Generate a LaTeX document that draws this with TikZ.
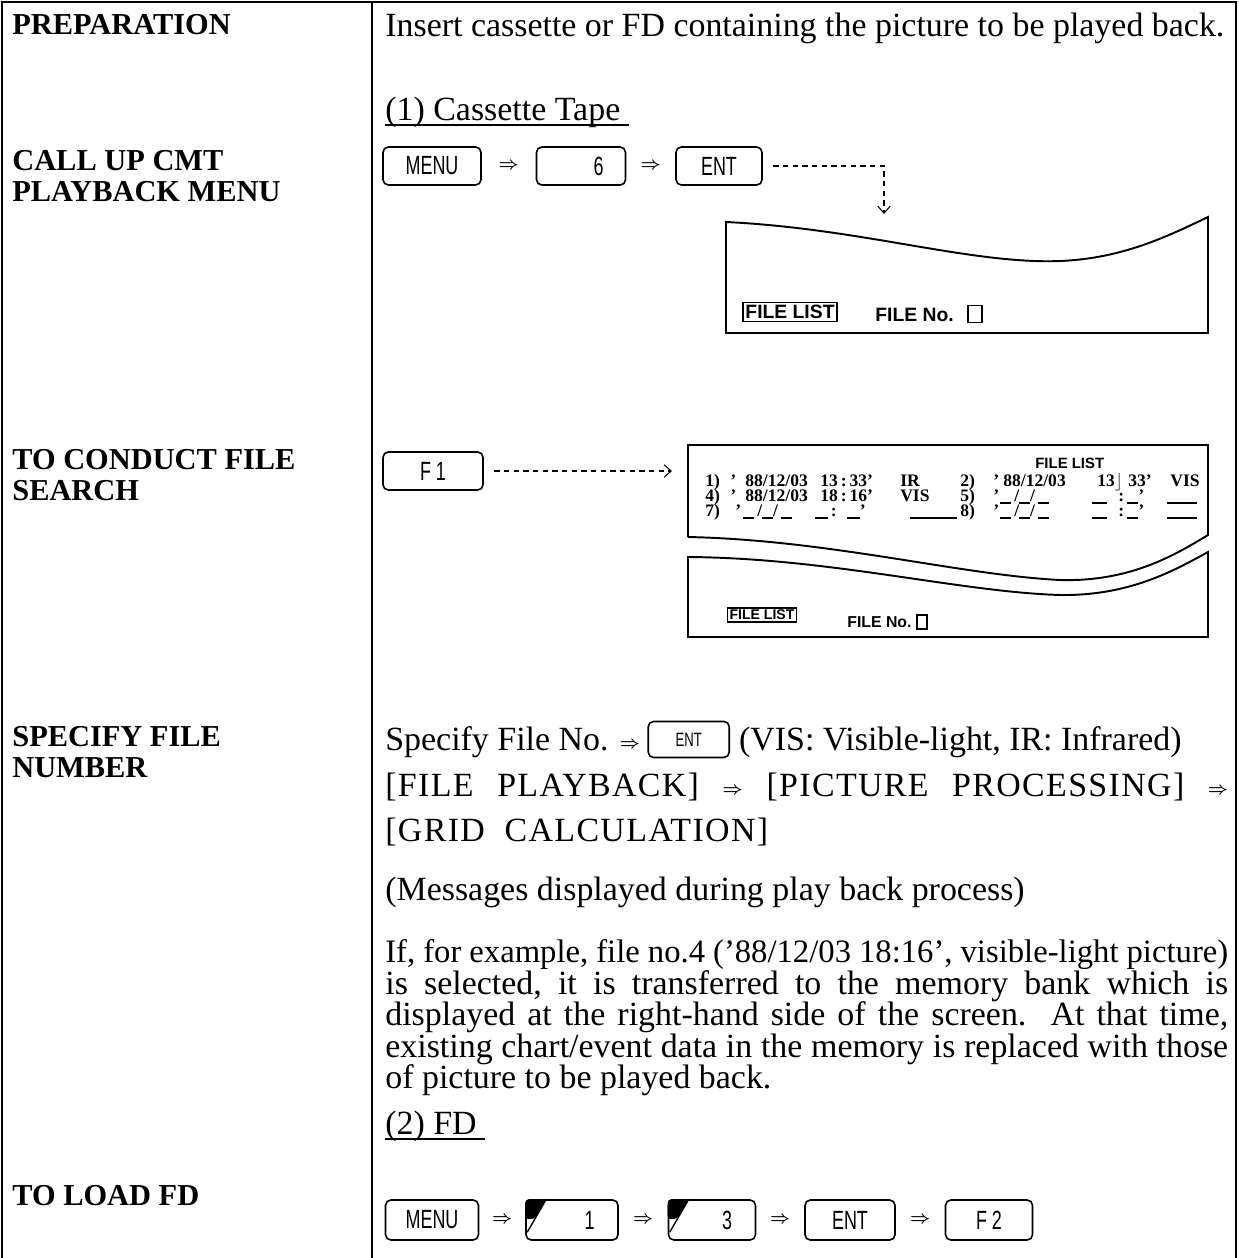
\documentclass[tikz,border=0pt]{standalone}
\usepackage{fontspec}
\setmainfont{Liberation Serif}
\newfontfamily\keyfont{Liberation Sans}[FakeStretch=0.68]
\newfontfamily\scrfont{Liberation Sans}
\newfontfamily\capsfont{Liberation Serif}[LetterSpace=4]
\usetikzlibrary{calc}
\usetikzlibrary{positioning}
\usetikzlibrary{arrows.meta}
\newcommand{\dimp}{\raisebox{1pt}{\fontsize{10}{10}\selectfont\boldmath$\Rightarrow$}}
\newcommand{\jline}[1]{\makebox[16.86cm][s]{\frenchspacing\spaceskip=0.16em plus 1fil\relax #1}}
\newcommand{\cell}[2]{\makebox[#1cm][l]{#2}}
\newcommand{\blank}[1]{\rule[-1.5pt]{#1cm}{0.7pt}}
\newcommand{\slots}[1]{\blank{#1}\,/\blank{#1}/\,\blank{#1}}

\begin{document}
\begin{tikzpicture}[x=0.02cm, y=-0.02cm,
    lbl/.style={anchor=base west, inner sep=0pt, font=\fontsize{17.3}{20}\selectfont\bfseries},
    txt/.style={anchor=base west, inner sep=0pt, font=\fontsize{19.3}{22}\selectfont},
    key/.style={draw, line width=0.9pt, rounded corners=3pt, minimum height=0.76cm, inner sep=0pt, font=\keyfont\fontsize{15}{15}\selectfont},
    imp/.style={inner sep=0pt, font=\fontsize{10}{10}\selectfont\boldmath},
    lst/.style={anchor=base west, inner sep=0pt, font=\bfseries\fontsize{10}{10}\selectfont},
    scr/.style={line width=1.1pt},
    lead/.style={dash pattern=on 3pt off 2.5pt, line width=0.6pt, -{Straight Barb[length=4pt, width=7pt]}}]
        \useasboundingbox (0,0) rectangle (1239,1258);
        % frame
        \draw[line width=1.1pt] (2,1258) -- (2,2) -- (1236,2) -- (1236,1258);
        \draw[line width=1.1pt] (372,2) -- (372,1258);

        % left column
        \node[lbl] (prep) at (12,34) {PREPARATION};
        \node[lbl] (callA) at (12,170) {CALL UP CMT};
        \node[lbl] (callB) at (12,201) {PLAYBACK MENU};
        \node[lbl] (srchA) at (12,469) {TO CONDUCT FILE};
        \node[lbl] (srchB) at (12,500) {SEARCH};
        \node[lbl] (specA) at (12,746) {SPECIFY FILE};
        \node[lbl] (specB) at (12,777) {NUMBER};
        \node[lbl] (load) at (12,1205) {TO LOAD FD};

        % right column, text
        \node[txt] (insert) at (385,36) {Insert cassette or FD containing the picture to be played back.};
        \node[txt] (cas) at (385,120) {(1) Cassette Tape};
        \draw[line width=0.8pt] ($(cas.base west)+(0,5)$) -- ($(cas.base east)+(8,5)$);

        % (1) keys
        \node[key, minimum width=1.96cm] (menuA) at (432,166) {MENU};
        \node[key, minimum width=1.78cm, text width=0.9cm, align=right] (sixA) at (581,166) {6};
        \node[key, minimum width=1.72cm] (entA) at (719,166) {ENT};
        \node[imp] at ($(menuA.east)!0.5!(sixA.west)$) {$\Rightarrow$};
        \node[imp] at ($(sixA.east)!0.5!(entA.west)$) {$\Rightarrow$};
        \coordinate (tipA) at (884,214);
        \draw[lead] ([xshift=6pt]entA.east) -| (tipA);

        % screen 1
        \draw[scr] (726,333) -- (726,222) .. controls (850,228) and (950,258) .. (1035,261)
            .. controls (1110,264) and (1160,240) .. (1208,217) -- (1208,333) -- cycle;
        \node[draw, line width=1.1pt, inner sep=1.5pt, font=\scrfont\bfseries\fontsize{11}{11}\selectfont] (listA) at (790,312) {FILE LIST};
        \node[anchor=base west, inner sep=0pt, font=\scrfont\bfseries\fontsize{11}{11}\selectfont] (noA) at (875,321) {FILE No.};
        \node[draw, line width=1pt, minimum width=0.28cm, minimum height=0.34cm, inner sep=0pt] (sqA) at (975,314) {};

        % file search
        \node[key, minimum width=2.0cm] (fA) at (433,471) {F 1};
        \coordinate (tipB) at (672,471);
        \draw[lead] ([xshift=6pt]fA.east) -- (tipB);

        % screen 2
        \draw[scr] (688,537) -- (688,445) -- (1208,445) -- (1208,535)
            .. controls (1175,555) and (1130,582) .. (1060,580)
            .. controls (960,575) and (830,540) .. (688,537);
        \draw[scr] (688,637) -- (688,557) .. controls (830,558) and (960,592) .. (1060,595)
            .. controls (1130,596) and (1175,570) .. (1208,552) -- (1208,637) -- cycle;
        \node[anchor=base west, inner sep=0pt, font=\scrfont\bfseries\fontsize{8.5}{9}\selectfont] (hdB) at (1035,468) {FILE LIST};
        \node[lst] (rowA) at (705,486) {\cell{0.5}{1)}\cell{0.3}{'}\cell{1.5}{88/12/03}\cell{1.6}{13\,:\,33'}IR};
        \node[lst] (rowB) at (960,486) {\cell{0.66}{2)}\cell{0.2}{'}\cell{1.88}{88/12/03}\cell{0.62}{13$\rfloor$}\cell{0.84}{33'}VIS};
        \node[lst] (rowC) at (705,501) {\cell{0.5}{4)}\cell{0.3}{'}\cell{1.5}{88/12/03}\cell{1.6}{18\,:\,16'}VIS};
        \node[lst] (rowD) at (960,501) {\cell{0.66}{5)}\cell{0.14}{'}\cell{1.84}{\slots{0.22}}\cell{0.52}{\blank{0.3}}\cell{0.18}{:}\cell{0.8}{\blank{0.22}'}\blank{0.6}};
        \node[lst] (rowE) at (705,516) {\cell{0.6}{7)}\cell{0.16}{'}\cell{1.44}{\slots{0.22}}\cell{0.64}{\blank{0.25}\,:}\cell{1.26}{\blank{0.25}'}\blank{0.94}};
        \node[lst] (rowF) at (960,516) {\cell{0.66}{8)}\cell{0.14}{'}\cell{1.84}{\slots{0.22}}\cell{0.52}{\blank{0.3}}\cell{0.18}{:}\cell{0.8}{\blank{0.22}'}\blank{0.6}};
        \node[draw, line width=1.1pt, inner sep=1.2pt, font=\scrfont\bfseries\fontsize{8}{8}\selectfont] (listB) at (762,615) {FILE LIST};
        \node[anchor=base west, inner sep=0pt, font=\scrfont\bfseries\fontsize{9}{9}\selectfont] (noB) at (847,627) {FILE No.};
        \node[draw, line width=1pt, minimum width=0.2cm, minimum height=0.28cm, inner sep=0pt] (sqB) at (922,622) {};

        % specify file number
        \node[txt] (spec) at (385,750) {Specify File No. \dimp};
        \node[key, anchor=west, minimum width=1.62cm, minimum height=0.72cm, font=\keyfont\fontsize{11}{11}\selectfont] (entB) at ([xshift=4pt, yshift=6pt]spec.base east) {ENT};
        \node[txt] (vis) at ([xshift=5pt]entB.east |- spec.base) {(VIS: Visible-light, IR: Infrared)};
        \node[txt] (proc) at (385,796) {\jline{\capsfont [FILE PLAYBACK] \dimp{} [PICTURE PROCESSING] \dimp}};
        \node[txt] (grid) at (385,841) {\capsfont [GRID\ \ CALCULATION]};
        \node[txt] (msg) at (385,900) {(Messages displayed during play back process)};
        \node[txt, font=\fontsize{18.6}{22}\selectfont] (parA) at (385,962) {\jline{If, for example, file no.4 ('88/12/03 18:16', visible-light picture)}};
        \node[txt] (parB) at (385,994) {\jline{is selected, it is transferred to the memory bank which is}};
        \node[txt] (parC) at (385,1025) {\jline{displayed at the right-hand side of the screen.\ \ At that time,}};
        \node[txt] (parD) at (385,1057) {\jline{existing chart/event data in the memory is replaced with those}};
        \node[txt] (parE) at (385,1088) {of picture to be played back.};

        % (2) FD
        \node[txt] (fd) at (385,1134) {(2) FD};
        \draw[line width=0.8pt] ($(fd.base west)+(0,5)$) -- ($(fd.base east)+(8,5)$);
        \node[key, minimum width=1.86cm, minimum height=0.8cm] (menuB) at (432,1220) {MENU};
        \node[key, minimum width=1.84cm, minimum height=0.8cm, text width=0.9cm, align=right] (oneB) at (572,1220) {1};
        \node[key, minimum width=1.74cm, minimum height=0.8cm, text width=0.8cm, align=right] (threeB) at (712,1220) {3};
        \node[key, minimum width=1.8cm, minimum height=0.8cm] (entC) at (850,1220) {ENT};
        \node[key, minimum width=1.74cm, minimum height=0.8cm] (fB) at (989,1220) {F 2};
        \node[imp] at ($(menuB.east)!0.5!(oneB.west)$) {$\Rightarrow$};
        \node[imp] at ($(oneB.east)!0.5!(threeB.west)$) {$\Rightarrow$};
        \node[imp] at ($(threeB.east)!0.5!(entC.west)$) {$\Rightarrow$};
        \node[imp] at ($(entC.east)!0.5!(fB.west)$) {$\Rightarrow$};
        % corner marks
        \foreach \k in {oneB, threeB} {
            \fill[rounded corners=2pt] (\k.north west) -- ($(\k.north west)+(21,0)$) -- ($(\k.north west)+(9,20)$) -- ($(\k.north west)+(0,20)$) -- cycle;
            \draw[line width=0.8pt] ($(\k.north west)+(21,0)$) -- ($(\k.north west)+(2,33)$);
        }
\end{tikzpicture}
\end{document}
